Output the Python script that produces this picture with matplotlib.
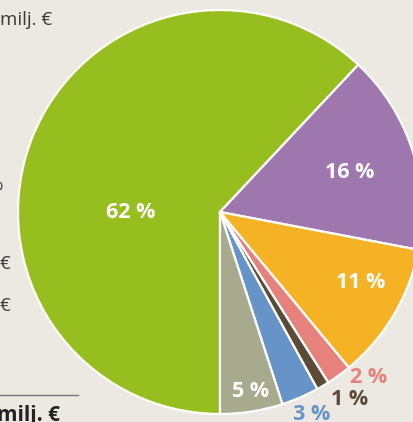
import matplotlib
matplotlib.use("Agg")
import matplotlib.pyplot as plt
import numpy as np

plt.rcParams['font.family'] = ['Open Sans', 'DejaVu Sans']

# data
values = [62, 16, 11, 2, 1, 3, 5]
labels = ["62 %", "16 %", "11 %", "2 %", "1 %", "3 %", "5 %"]
colors = ["#97BE1F", "#9E77AF", "#F6B225", "#E6817B", "#5B4B36", "#6794C8", "#A8AA8D"]
label_colors = ["white", "white", "white", "#E6817B", "#5B4B36", "#6794C8", "white"]
label_radius = [0.44, 0.67, 0.78, 1.10, 1.13, 1.10, 0.90]
label_angle_shift = [None, -1.0, 4.0, 6.0, 4.0, 1.0, 0.8]

W, H = 413, 422
bg = "#ECE8E2"
fig = plt.figure(figsize=(W / 100, H / 100), dpi=100, facecolor=bg)
ax = fig.add_axes([0, 0, 1, 1])
ax.set_facecolor(bg)

cx, cy, R = 220, H - 212, 202
wedges, _ = ax.pie(values, colors=colors, startangle=-90, counterclock=False,
                   center=(cx, cy), radius=R, frame=True,
                   wedgeprops=dict(edgecolor='white', linewidth=1.6))
ax.set_xlim(0, W)
ax.set_ylim(0, H)
ax.set_aspect('equal')
ax.axis('off')

for i, w in enumerate(wedges):
    ang = (w.theta1 + w.theta2) / 2
    if label_angle_shift[i] is None:
        ang = 180
    else:
        ang += label_angle_shift[i]
    r = label_radius[i] * R
    x = cx + r * np.cos(np.radians(ang))
    y = cy + r * np.sin(np.radians(ang))
    ax.text(x, y, labels[i], ha='center', va='center', fontsize=15.5,
            fontweight='bold', color=label_colors[i])

# fragments of neighbouring content on the left
txt = "#3a3a3a"
ax.text(52, H - 25, "milj. €", ha='right', va='baseline', fontsize=13.5, color=txt)
ax.text(3, H - 190, "%", ha='right', va='baseline', fontsize=13.5, color=txt)
ax.text(10, H - 269, "€", ha='right', va='baseline', fontsize=13.5, color=txt)
ax.text(10, H - 311, "€", ha='right', va='baseline', fontsize=13.5, color=txt)
ax.plot([0, 78], [H - 395, H - 395], color="#777777", linewidth=1)
ax.text(60, H - 421, "milj. €", ha='right', va='baseline', fontsize=15,
        fontweight='bold', color="#222222")

fig.savefig("out.png", dpi=100, facecolor=bg)
